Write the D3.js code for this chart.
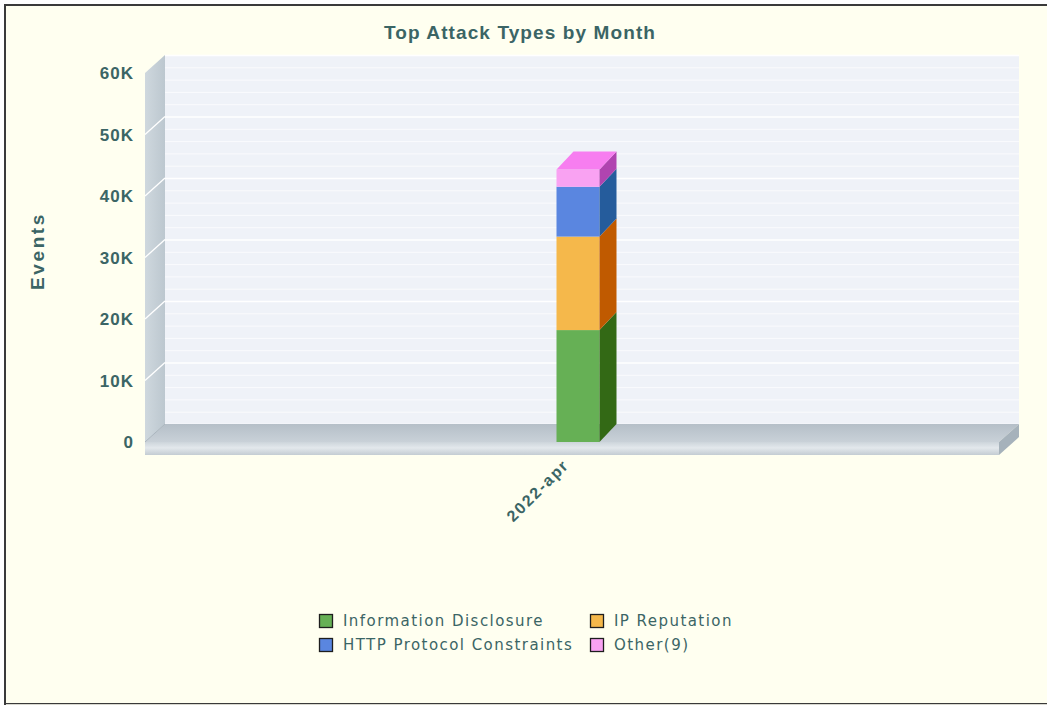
<!DOCTYPE html>
<html>
<head>
<meta charset="utf-8">
<script src="https://cdn.jsdelivr.net/npm/d3@7"></script>
<style>
  body { margin: 0; background: #ffffff; }
  svg { display: block; }
</style>
</head>
<body>
<div class="container"></div>
<script>
(function(){

    // data
    var months = ["2022-apr"];
    var series = ["Information Disclosure", "IP Reputation", "HTTP Protocol Constraints", "Other(9)"];
    var infoDisclosure = [18200];
    var ipReputation = [15200];
    var httpConstraints = [8100];
    var other = [2800];
    var yTicks = [0, 10000, 20000, 30000, 40000, 50000, 60000];
    var yTickLabels = ["0", "10K", "20K", "30K", "40K", "50K", "60K"];

    var front = ["#66b055", "#f5b84b", "#5a86e0", "#f9a2f2"];
    var side  = ["#336915", "#c05a00", "#255c9c", "#b044b0"];
    var top_  = ["#7fcc6a", "#ffd070", "#7aa0f0", "#f77ef0"];

    var textColor = "#3b6565";
    var fontFace = "'Liberation Sans', Arial, sans-serif";

    var W = 1047, H = 706;
    var svg = d3.select(".container").append("svg")
        .attr("width", W)
        .attr("height", H);

    // frame
    svg.append("rect")
        .attr("x", 5).attr("y", 5)
        .attr("width", 1060).attr("height", 699)
        .attr("fill", "#fffff0")
        .attr("stroke", "#3a3a3a")
        .attr("stroke-width", 2);
    svg.append("line")
        .attr("x1", 6).attr("x2", W).attr("y1", 704.5).attr("y2", 704.5)
        .attr("stroke", "#d8d8d0");

    // 3d plot geometry
    var x0 = 145, x1 = 999, dx = 20, dy = 18;

    var y = d3.scaleLinear()
        .domain([0, 60000])
        .range([442, 73]);

    var x = d3.scaleBand()
        .domain(months)
        .range([x0, x1])
        .paddingInner(0.1);

    var defs = svg.append("defs");
    var g1 = defs.append("linearGradient").attr("id", "sidewall")
        .attr("x1", 0).attr("x2", 1).attr("y1", 0).attr("y2", 0);
    g1.append("stop").attr("offset", 0).attr("stop-color", "#cfd8de");
    g1.append("stop").attr("offset", 1).attr("stop-color", "#bcc7cf");
    var g2 = defs.append("linearGradient").attr("id", "slab")
        .attr("x1", 0).attr("x2", 0).attr("y1", 0).attr("y2", 1);
    g2.append("stop").attr("offset", 0).attr("stop-color", "#cdd5db");
    g2.append("stop").attr("offset", 0.45).attr("stop-color", "#e3e8ec");
    g2.append("stop").attr("offset", 1).attr("stop-color", "#c3ccd3");
    var g3 = defs.append("linearGradient").attr("id", "floor")
        .attr("x1", 0).attr("x2", 0).attr("y1", 0).attr("y2", 1);
    g3.append("stop").attr("offset", 0).attr("stop-color", "#b5bfc8");
    g3.append("stop").attr("offset", 1).attr("stop-color", "#c9d1d8");

    // back wall
    svg.append("rect")
        .attr("x", x0 + dx).attr("y", y(60000) - dy)
        .attr("width", x1 - x0).attr("height", y(0) - y(60000))
        .attr("fill", "#eff2f8");

    var minor = d3.range(0, 60001, 2000);
    svg.append("g").selectAll("line")
        .data(minor)
        .enter().append("line")
        .attr("x1", x0 + dx).attr("x2", x1 + dx)
        .attr("y1", function(d) { return y(d) - dy + 0.5; })
        .attr("y2", function(d) { return y(d) - dy + 0.5; })
        .attr("stroke", "#ffffff")
        .attr("stroke-width", function(d) { return d % 10000 === 0 ? 1.6 : 1; })
        .attr("stroke-opacity", function(d) { return d % 10000 === 0 ? 1 : 0.7; });

    // left side wall
    svg.append("path")
        .attr("d", "M" + x0 + "," + y(60000) + "L" + (x0 + dx) + "," + (y(60000) - dy) +
                   "L" + (x0 + dx) + "," + (y(0) - dy) + "L" + x0 + "," + y(0) + "Z")
        .attr("fill", "url(#sidewall)");
    svg.append("g").selectAll("line")
        .data(yTicks.filter(function(d) { return d > 0 && d < 60000; }))
        .enter().append("line")
        .attr("x1", x0).attr("x2", x0 + dx)
        .attr("y1", function(d) { return y(d); })
        .attr("y2", function(d) { return y(d) - dy; })
        .attr("stroke", "#ffffff")
        .attr("stroke-width", 1.3);

    // floor
    svg.append("path")
        .attr("d", "M" + x0 + "," + y(0) + "L" + (x0 + dx) + "," + (y(0) - dy) +
                   "L" + (x1 + dx) + "," + (y(0) - dy) + "L" + x1 + "," + y(0) + "Z")
        .attr("fill", "url(#floor)");
    svg.append("rect")
        .attr("x", x0).attr("y", y(0))
        .attr("width", x1 - x0).attr("height", 13)
        .attr("fill", "url(#slab)");
    svg.append("path")
        .attr("d", "M" + x1 + "," + y(0) + "L" + (x1 + dx) + "," + (y(0) - dy) +
                   "L" + (x1 + dx) + "," + (y(0) - dy + 13) + "L" + x1 + "," + (y(0) + 13) + "Z")
        .attr("fill", "#a6b2bb");
    svg.append("line")
        .attr("x1", x0).attr("x2", x0 + dx)
        .attr("y1", y(0)).attr("y2", y(0) - dy)
        .attr("stroke", "#aab5be");

    // stacked bars
    var rows = months.map(function(m, i) {
        return { month: m, values: [infoDisclosure[i], ipReputation[i], httpConstraints[i], other[i]] };
    });
    var barW = 43, bdx = 17, bdy = 18;

    rows.forEach(function(r) {
        var bx = x(r.month) + x.bandwidth() / 2 - barW / 2 + 6;
        var base = 0;
        var g = svg.append("g");
        r.values.forEach(function(v, k) {
            var yb = y(base), yt = y(base + v);
            g.append("rect")
                .attr("x", bx).attr("y", yt)
                .attr("width", barW).attr("height", yb - yt)
                .attr("fill", front[k]);
            g.append("path")
                .attr("d", "M" + (bx + barW) + "," + yb + "L" + (bx + barW + bdx) + "," + (yb - bdy) +
                           "L" + (bx + barW + bdx) + "," + (yt - bdy) + "L" + (bx + barW) + "," + yt + "Z")
                .attr("fill", side[k]);
            base += v;
        });
        var yt = y(base), last = r.values.length - 1;
        g.append("path")
            .attr("d", "M" + bx + "," + yt + "L" + (bx + bdx) + "," + (yt - bdy) +
                       "L" + (bx + barW + bdx) + "," + (yt - bdy) + "L" + (bx + barW) + "," + yt + "Z")
            .attr("fill", top_[last]);
    });

    // y labels
    svg.append("g").selectAll("text")
        .data(yTicks)
        .enter().append("text")
        .attr("x", 134)
        .attr("y", function(d) { return y(d) + 6; })
        .attr("text-anchor", "end")
        .attr("font-family", fontFace)
        .attr("font-weight", "bold")
        .attr("font-size", 17)
        .attr("letter-spacing", 1)
        .attr("fill", textColor)
        .text(function(d, i) { return yTickLabels[i]; });

    // x labels
    svg.append("g").selectAll("text")
        .data(months)
        .enter().append("text")
        .attr("transform", function(d) {
            return "translate(" + (x(d) + x.bandwidth() / 2 - 2) + ",466) rotate(-45)";
        })
        .attr("text-anchor", "end")
        .attr("font-family", fontFace)
        .attr("font-weight", "bold")
        .attr("font-size", 16)
        .attr("letter-spacing", 1.8)
        .attr("fill", textColor)
        .text(function(d) { return d; });

    // title and axis title
    svg.append("text")
        .attr("x", 520).attr("y", 39)
        .attr("text-anchor", "middle")
        .attr("font-family", fontFace)
        .attr("font-weight", "bold")
        .attr("font-size", 19)
        .attr("letter-spacing", 1.1)
        .attr("fill", textColor)
        .text("Top Attack Types by Month");

    svg.append("text")
        .attr("transform", "translate(44,251) rotate(-90)")
        .attr("text-anchor", "middle")
        .attr("font-family", fontFace)
        .attr("font-weight", "bold")
        .attr("font-size", 19)
        .attr("letter-spacing", 2.6)
        .attr("fill", textColor)
        .text("Events");

    // legend
    var legendPos = [[319, 614], [590, 614], [319, 638], [590, 638]];
    var legend = svg.append("g").selectAll("g")
        .data(series)
        .enter().append("g")
        .attr("transform", function(d, i) { return "translate(" + legendPos[i][0] + "," + legendPos[i][1] + ")"; });
    legend.append("rect")
        .attr("x", 0.5).attr("y", 0.5)
        .attr("width", 13).attr("height", 13)
        .attr("fill", function(d, i) { return front[i]; })
        .attr("stroke", "#1e1e1e")
        .attr("stroke-width", 1.3);
    legend.append("text")
        .attr("x", 24).attr("y", 12)
        .attr("font-family", "'DejaVu Sans', sans-serif")
        .attr("font-size", 15)
        .attr("letter-spacing", 1.45)
        .attr("fill", textColor)
        .text(function(d) { return d; });

})();
</script>
</body>
</html>
